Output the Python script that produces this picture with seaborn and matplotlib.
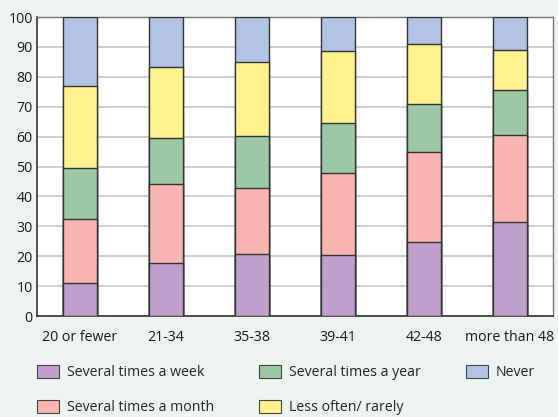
import numpy as np
import pandas as pd
import matplotlib
matplotlib.use("Agg")
import matplotlib.pyplot as plt
import seaborn as sns
from matplotlib.patches import Patch
from matplotlib.ticker import FixedLocator

# age groups and share (%) of each answer
groups = ['20 or fewer', '21-34', '35-38', '39-41', '42-48', 'more than 48']
week = [11.0, 17.7, 20.8, 20.3, 24.7, 31.5]
month = [21.4, 26.4, 21.9, 27.5, 30.2, 29.2]
year = [17.0, 15.3, 17.4, 16.9, 16.0, 14.8]
rarely = [27.6, 23.9, 24.9, 23.8, 20.0, 13.5]
never = [23.0, 16.7, 15.0, 11.5, 9.1, 11.0]

labels = ['Several times a week', 'Several times a month', 'Several times a year',
          'Less often/ rarely', 'Never']
colors = ['#bf9fcb', '#f8b4b0', '#9dc8a6', '#fef28e', '#b2c3e3']

df = pd.DataFrame({'group': groups, 'week': week, 'month': month, 'year': year,
                   'rarely': rarely, 'never': never})
cols = ['week', 'month', 'year', 'rarely', 'never']
cum = df[cols].cumsum(axis=1)

sns.set_theme(style='white')
plt.rcParams['font.family'] = ['Open Sans', 'DejaVu Sans']

fig = plt.figure(figsize=(5.58, 4.17), dpi=100)
fig.patch.set_facecolor('#edf3ee')
ax = fig.add_axes([0.066, 0.242, 0.925, 0.717])
ax.set_facecolor('white')

# draw from the top segment down so each bar covers the one behind
for i in range(len(cols) - 1, -1, -1):
    sns.barplot(x=df['group'], y=cum[cols[i]], color=colors[i], saturation=1,
                width=0.4, edgecolor='#333333', linewidth=1, ax=ax, zorder=3)

ax.set_ylim(0, 100)
ax.set_xlim(-0.5, 5.5)
ax.set_yticks(range(0, 101, 10))
ax.set_xlabel('')
ax.set_ylabel('')
ax.yaxis.grid(True, color='#cccccc', linewidth=1.3, zorder=0)
ax.set_axisbelow(True)
ax.tick_params(axis='y', length=0, pad=3, labelsize=10.2, colors='#1a1a1a')
ax.tick_params(axis='x', which='major', length=0, pad=10, labelsize=10.2, colors='#1a1a1a')
ax.xaxis.set_minor_locator(FixedLocator(np.arange(-0.5, 6, 1)))
ax.tick_params(axis='x', which='minor', length=6, width=1, color='#333333', direction='out')

for s in ['left', 'bottom']:
    ax.spines[s].set_color('#333333')
    ax.spines[s].set_linewidth(1.2)
for s in ['top', 'right']:
    ax.spines[s].set_color('#777777')
    ax.spines[s].set_linewidth(1)

handles = [Patch(facecolor=c, edgecolor='#444444', linewidth=0.8) for c in colors]
fig.legend(handles, labels, ncol=3, frameon=False, loc='upper left',
           bbox_to_anchor=(0.056, 0.139), fontsize=10.2, handlelength=1.55,
           handleheight=1.08, handletextpad=0.55, columnspacing=3.2,
           labelspacing=1.38, borderaxespad=0)

fig.savefig('out.png', dpi=100, facecolor=fig.get_facecolor())
